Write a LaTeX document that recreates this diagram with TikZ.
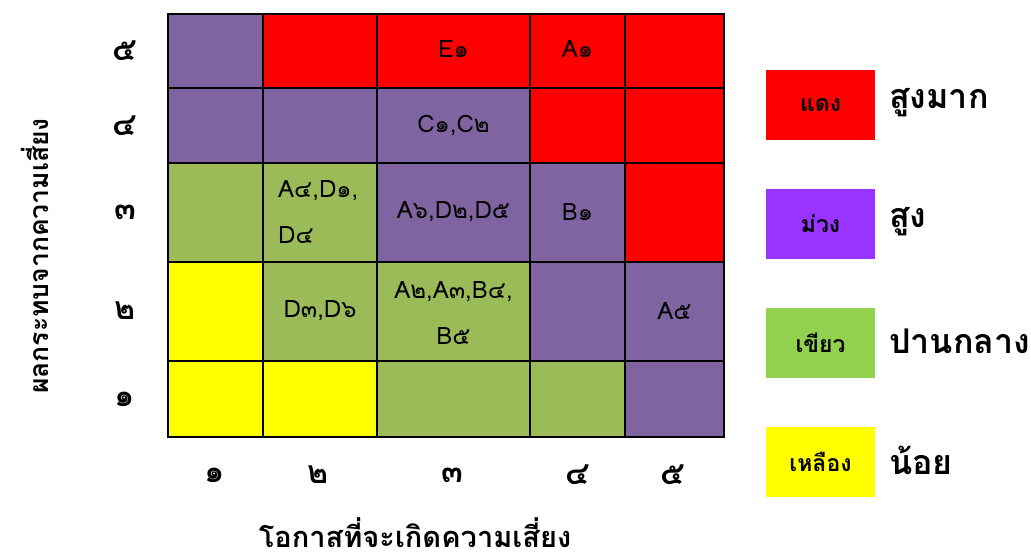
\documentclass[tikz,border=0pt]{standalone}
\usepackage{fontspec}
\setmainfont[Script=Thai]{Loma}
\definecolor{mpurple}{HTML}{8064A2}
\definecolor{mred}{HTML}{FF0000}
\definecolor{mgreen}{HTML}{9BBB59}
\definecolor{myellow}{HTML}{FFFF00}
\definecolor{lpurple}{HTML}{9933FF}
\definecolor{lgreen}{HTML}{92D050}
\tikzset{
  cell/.style={draw=black, line width=2.8pt, inner sep=0pt},
  celltext/.style={inner sep=0pt, font=\fontsize{24}{46}\selectfont},
  axisnum/.style={inner sep=0pt, font=\bfseries\fontsize{32}{36}\selectfont},
  axistitle/.style={inner sep=0pt, font=\bfseries\fontsize{29}{32}\selectfont},
  legbox/.style={inner sep=0pt, minimum width=109pt, minimum height=70pt, font=\bfseries\fontsize{23}{26}\selectfont},
  legtext/.style={inner sep=0pt, anchor=west, font=\bfseries\fontsize{34}{38}\selectfont}
}
\begin{document}
\begin{tikzpicture}[x=1pt,y=-1pt]
\useasboundingbox (0,0) rectangle (1031,559);
% row 5 (top)
\node[cell, fill=mpurple, minimum width=95pt,  minimum height=74pt] (c15) at (215.5,51) {};
\node[cell, fill=mred,    minimum width=114pt, minimum height=74pt] (c25) at (320,51) {};
\node[cell, fill=mred,    minimum width=153pt, minimum height=74pt] (c35) at (453.5,51) {};
\node[cell, fill=mred,    minimum width=95pt,  minimum height=74pt] (c45) at (577.5,51) {};
\node[cell, fill=mred,    minimum width=99pt,  minimum height=74pt] (c55) at (674.5,51) {};
% row 4
\node[cell, fill=mpurple, minimum width=95pt,  minimum height=75pt] (c14) at (215.5,125.5) {};
\node[cell, fill=mpurple, minimum width=114pt, minimum height=75pt] (c24) at (320,125.5) {};
\node[cell, fill=mpurple, minimum width=153pt, minimum height=75pt] (c34) at (453.5,125.5) {};
\node[cell, fill=mred,    minimum width=95pt,  minimum height=75pt] (c44) at (577.5,125.5) {};
\node[cell, fill=mred,    minimum width=99pt,  minimum height=75pt] (c54) at (674.5,125.5) {};
% row 3
\node[cell, fill=mgreen,  minimum width=95pt,  minimum height=99pt] (c13) at (215.5,212.5) {};
\node[cell, fill=mgreen,  minimum width=114pt, minimum height=99pt] (c23) at (320,212.5) {};
\node[cell, fill=mpurple, minimum width=153pt, minimum height=99pt] (c33) at (453.5,212.5) {};
\node[cell, fill=mpurple, minimum width=95pt,  minimum height=99pt] (c43) at (577.5,212.5) {};
\node[cell, fill=mred,    minimum width=99pt,  minimum height=99pt] (c53) at (674.5,212.5) {};
% row 2
\node[cell, fill=myellow, minimum width=95pt,  minimum height=99pt] (c12) at (215.5,311.5) {};
\node[cell, fill=mgreen,  minimum width=114pt, minimum height=99pt] (c22) at (320,311.5) {};
\node[cell, fill=mgreen,  minimum width=153pt, minimum height=99pt] (c32) at (453.5,311.5) {};
\node[cell, fill=mpurple, minimum width=95pt,  minimum height=99pt] (c42) at (577.5,311.5) {};
\node[cell, fill=mpurple, minimum width=99pt,  minimum height=99pt] (c52) at (674.5,311.5) {};
% row 1
\node[cell, fill=myellow, minimum width=95pt,  minimum height=76pt] (c11) at (215.5,399) {};
\node[cell, fill=myellow, minimum width=114pt, minimum height=76pt] (c21) at (320,399) {};
\node[cell, fill=mgreen,  minimum width=153pt, minimum height=76pt] (c31) at (453.5,399) {};
\node[cell, fill=mgreen,  minimum width=95pt,  minimum height=76pt] (c41) at (577.5,399) {};
\node[cell, fill=mpurple, minimum width=99pt,  minimum height=76pt] (c51) at (674.5,399) {};
% cell texts
\node[celltext] (tE) at (453.5,49) {E๑};
\node[celltext] (tA1) at (577.5,49) {A๑};
\node[celltext] (tC) at (453.5,126) {C๑,C๒};
\node[celltext, align=left, anchor=west] (tAD) at (278,212.5) {A๔,D๑,\\D๔};
\node[celltext] (tA6) at (453.5,212) {A๖,D๒,D๕};
\node[celltext] (tB1) at (577.5,212) {B๑};
\node[celltext] (tD3) at (320,311) {D๓,D๖};
\node[celltext, align=center] (tA2) at (453.5,313) {A๒,A๓,B๔,\\B๕};
\node[celltext] (tA5) at (674.5,311) {A๕};
% axis numbers
\node[axisnum] (y5) at (125,51) {๕};
\node[axisnum] (y4) at (125,126) {๔};
\node[axisnum] (y3) at (125,212) {๓};
\node[axisnum] (y2) at (125,311) {๒};
\node[axisnum] (y1) at (125,399) {๑};
\node[axisnum] (x1) at (215,475) {๑};
\node[axisnum] (x2) at (318,475) {๒};
\node[axisnum] (x3) at (452,475) {๓};
\node[axisnum] (x4) at (578,475) {๔};
\node[axisnum] (x5) at (673,475) {๕};
% axis titles
\node[axistitle, rotate=90] (ytitle) at (35,256) {\fontsize{26.5}{30}\selectfont ผลกระทบจากความเสี่ยง};
\node[axistitle] (xtitle) at (415,533) {โอกาสที่จะเกิดความเสี่ยง};
% legend
\node[legbox, fill=mred]    (l1) at (820.5,105) {แดง};
\node[legbox, fill=lpurple] (l2) at (820.5,224) {ม่วง};
\node[legbox, fill=lgreen]  (l3) at (820.5,343) {เขียว};
\node[legbox, fill=myellow] (l4) at (820.5,462) {เหลือง};
\node[legtext] (lt1) at (889,103) {สูงมาก};
\node[legtext] (lt2) at (889,222) {สูง};
\node[legtext] (lt3) at (889,341) {ปานกลาง};
\node[legtext] (lt4) at (889,460) {น้อย};
\end{tikzpicture}
\end{document}
